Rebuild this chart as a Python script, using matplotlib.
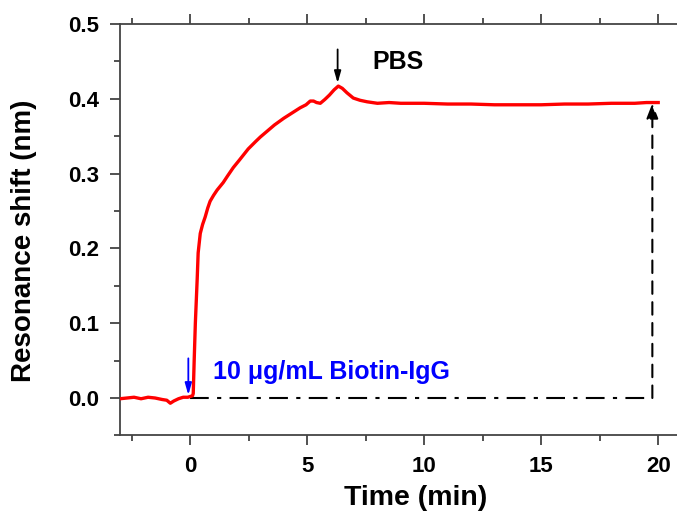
import numpy as np
import matplotlib.pyplot as plt
from matplotlib.ticker import MultipleLocator

# values
time_min = [-3.0, -2.7, -2.4, -2.1, -1.8, -1.5, -1.2, -1.0, -0.85, -0.7,
            -0.5, -0.3, -0.1, 0.0, 0.1, 0.13, 0.17, 0.22, 0.26, 0.3,
            0.34, 0.43, 0.53, 0.64, 0.75, 0.85, 1.0, 1.15, 1.41, 1.6,
            1.84, 2.1, 2.48, 2.8, 3.0, 3.3, 3.6, 4.0, 4.4, 4.7,
            4.95, 5.13, 5.27, 5.4, 5.56, 5.75, 5.95, 6.15, 6.33, 6.5,
            6.7, 6.97, 7.26, 7.56, 8.0, 8.5, 9.0, 10.0, 11.0, 12.0,
            13.0, 14.0, 15.0, 16.0, 17.0, 18.0, 19.0, 19.5, 20.0]
shift_nm = [-0.001, 0.000, 0.001, -0.001, 0.001, 0.000, -0.002, -0.003, -0.007, -0.004,
            -0.001, 0.001, 0.001, 0.002, 0.003, 0.006, 0.05, 0.10, 0.13, 0.16,
            0.194, 0.22, 0.232, 0.242, 0.254, 0.263, 0.271, 0.278, 0.288, 0.297,
            0.308, 0.318, 0.333, 0.343, 0.349, 0.357, 0.365, 0.374, 0.382, 0.388,
            0.392, 0.397, 0.397, 0.395, 0.394, 0.399, 0.405, 0.412, 0.417, 0.414,
            0.408, 0.401, 0.398, 0.396, 0.394, 0.395, 0.394, 0.394, 0.393, 0.393,
            0.392, 0.392, 0.392, 0.393, 0.393, 0.394, 0.394, 0.395, 0.395]

inject_t = -0.08
pbs_t = 6.3
plateau_t = 19.75
plateau_shift = 0.394

plt.rcParams['font.family'] = ['Liberation Sans', 'DejaVu Sans']
plt.rcParams['font.weight'] = 'bold'

fig = plt.figure(figsize=(6.77, 5.12), dpi=100)
ax = fig.add_axes([120 / 677, 76.6 / 512, 561.6 / 677, 411.4 / 512])

ax.plot(time_min, shift_nm, color='#ff0000', linewidth=2.4, zorder=3)

# baseline and plateau marker
ax.plot([0, plateau_t], [0, 0], color='black', linewidth=1.5,
        dashes=(9, 4, 2, 4))
ax.annotate('', xy=(plateau_t, plateau_shift), xytext=(plateau_t, 0),
            arrowprops=dict(arrowstyle='-|>,head_length=0.9,head_width=0.35',
                            color='black', linewidth=1.5, linestyle=(0, (6, 4)),
                            shrinkA=0, shrinkB=0))

# injection arrows and labels
ax.annotate('', xy=(inject_t, 0.004), xytext=(inject_t, 0.053),
            arrowprops=dict(arrowstyle='-|>,head_length=0.7,head_width=0.2',
                            color='#0000ff', linewidth=1.3, shrinkA=0, shrinkB=0))
ax.text(0.98, 0.035, '10 \u03bcg/mL Biotin-IgG', color='#0000ff', fontsize=18,
        fontweight='bold', ha='left', va='center')
ax.annotate('', xy=(pbs_t, 0.421), xytext=(pbs_t, 0.466),
            arrowprops=dict(arrowstyle='-|>,head_length=0.7,head_width=0.2',
                            color='black', linewidth=1.3, shrinkA=0, shrinkB=0))
ax.text(7.78, 0.449, 'PBS', color='black', fontsize=18, fontweight='bold',
        ha='left', va='center')

ax.set_xlim(-3, 21)
ax.set_ylim(-0.05, 0.5)
ax.xaxis.set_major_locator(MultipleLocator(5))
ax.xaxis.set_minor_locator(MultipleLocator(2.5))
ax.yaxis.set_major_locator(MultipleLocator(0.1))
ax.yaxis.set_minor_locator(MultipleLocator(0.05))
ax.yaxis.set_major_formatter(plt.FormatStrFormatter('%.1f'))

ax.tick_params(which='both', direction='out', top=True, right=False,
               width=1.2, colors='#333333', labelcolor='black', labelsize=16)
ax.tick_params(which='major', length=7, pad=8)
ax.tick_params(which='minor', length=4)
for side in ['left', 'bottom', 'top']:
    ax.spines[side].set_linewidth(1.3)
    ax.spines[side].set_color('#444444')
ax.spines['right'].set_visible(False)

ax.set_xlabel('Time (min)', fontsize=20.5, fontweight='bold')
ax.set_ylabel('Resonance shift (nm)', fontsize=20, fontweight='bold')
ax.xaxis.set_label_coords(0.526, -0.12)
ax.yaxis.set_label_coords(-0.148, 0.474)

fig.savefig('out.png', dpi=100)
